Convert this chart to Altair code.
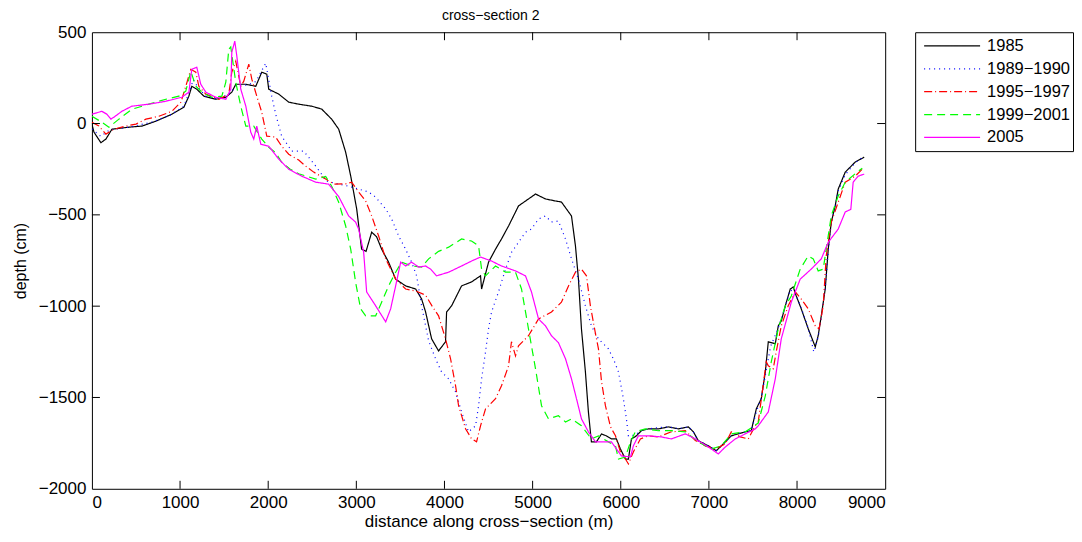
import altair as alt
import pandas as pd

# ---------------- data ----------------
SERIES = ["1985", "1989\u22121990", "1995\u22121997", "1999\u22122001", "2005"]
COLORS = ["#000000", "#0000ff", "#ff0000", "#00ff00", "#ff00ff"]
DASHES = [[1, 0], [1, 4], [8, 3, 1, 3], [8, 5], [1, 0]]

d1985 = [0, 23, 102, 159, 227, 420, 567, 725, 907, 1043, 1100, 1133, 1190, 1270, 1405, 1519, 1587, 1632, 1746, 1859,
         1927, 1984, 2006, 2120, 2233, 2346, 2494, 2607, 2720, 2800, 2879, 2936, 3004, 3060, 3110, 3174, 3230, 3287,
         3366, 3446, 3559, 3673, 3740, 3786, 3854, 3933, 4012, 4024, 4081, 4194, 4307, 4409, 4421, 4500, 4579, 4647,
         4727, 4840, 4953, 5033, 5146, 5259, 5327, 5384, 5441, 5486, 5520, 5554, 5599, 5633, 5667, 5724, 5781, 5837,
         5894, 5951, 5996, 6053, 6087, 6121, 6178, 6234, 6313, 6427, 6540, 6654, 6767, 6824, 6880, 6994, 7084, 7186,
         7254, 7413, 7481, 7538, 7594, 7640, 7674, 7753, 7787, 7821, 7867, 7923, 7957, 7991, 8048, 8127, 8207, 8240,
         8275, 8320, 8354, 8388, 8433, 8467, 8547, 8660, 8762]
v1985 = [-3, -47, -105, -85, -31, -20, -14, 13, 51, 89, 150, 204, 188, 150, 133, 144, 172, 215, 215, 204,
         281, 270, 188, 161, 117, 106, 95, 79, 24, -31, -157, -287, -468, -688, -700, -595, -620, -688,
         -759, -852, -889, -906, -960, -1032, -1179, -1245, -1195, -1032, -998, -889, -867, -834, -906, -759, -688, -632,
         -561, -451, -413, -386, -413, -424, -430, -468, -506, -670, -852, -1124, -1360, -1579, -1743, -1743, -1700, -1710,
         -1727, -1727, -1782, -1837, -1837, -1727, -1710, -1682, -1672, -1672, -1661, -1672, -1661, -1688, -1737, -1765, -1792, -1743,
         -1710, -1688, -1682, -1562, -1507, -1360, -1195, -1206, -1108, -1081, -998, -906, -895, -944, -1015, -1124, -1223, -1162,
         -1053, -906, -688, -541, -451, -359, -266, -211, -184]

d1989 = [0, 100, 200, 420, 700, 907, 1043, 1110, 1150, 1200, 1290, 1420, 1550, 1650, 1760, 1860, 1972, 2040, 2085,
         2153, 2267, 2403, 2539, 2664, 2800, 2913, 3026, 3140, 3219, 3333, 3401, 3480, 3559, 3627, 3684, 3741, 3820,
         3899, 3967, 4047, 4126, 4194, 4273, 4353, 4387, 4421, 4466, 4500, 4534, 4613, 4693, 4760, 4840, 4919, 4987,
         5067, 5146, 5214, 5293, 5373, 5441, 5520, 5599, 5667, 5747, 5860, 5917, 5974, 6030, 6064, 6087, 6121, 6178,
         6234, 6313, 6427, 6540, 6654, 6767, 6824, 6880, 6994, 7084, 7186, 7254, 7413, 7481, 7538, 7594, 7640, 7700,
         7787, 7867, 7923, 7980, 8048, 8127, 8190, 8240, 8275, 8320, 8354, 8388, 8433, 8467, 8547, 8660, 8762]
v1989 = [-30, -70, -35, -20, 10, 51, 95, 180, 240, 200, 150, 135, 160, 210, 210, 230, 330, 150, 51,
         -69, -151, -151, -233, -316, -332, -343, -359, -375, -403, -468, -523, -616, -688, -759, -834, -1000, -1190,
         -1288, -1360, -1398, -1470, -1579, -1688, -1655, -1545, -1398, -1250, -1124, -1032, -922, -797, -706, -650, -595, -578,
         -523, -506, -539, -534, -632, -741, -852, -998, -1108, -1179, -1234, -1289, -1360, -1507, -1617, -1710, -1710, -1700,
         -1682, -1672, -1665, -1661, -1670, -1661, -1690, -1737, -1765, -1790, -1745, -1705, -1690, -1680, -1580, -1500, -1380, -1220,
         -1120, -1000, -910, -930, -1010, -1120, -1250, -1170, -1060, -900, -700, -545, -455, -370, -280, -215, -178]

d1995 = [0, 79, 159, 250, 385, 500, 612, 760, 907, 1010, 1065, 1122, 1179, 1213, 1292, 1440, 1553, 1587, 1632, 1689,
         1723, 1780, 1814, 1870, 1927, 1984, 2085, 2153, 2233, 2346, 2425, 2516, 2652, 2750, 2879, 2947, 3026, 3106,
         3174, 3253, 3333, 3446, 3559, 3673, 3786, 3860, 3933, 4012, 4069, 4126, 4160, 4239, 4307, 4364, 4409, 4466,
         4579, 4647, 4727, 4760, 4806, 4840, 4953, 5067, 5214, 5327, 5407, 5486, 5554, 5611, 5656, 5713, 5747, 5781,
         5826, 5883, 5940, 5996, 6053, 6087, 6143, 6223, 6313, 6427, 6574, 6733, 6846, 6960, 7073, 7186, 7254, 7356,
         7447, 7526, 7560, 7651, 7674, 7730, 7764, 7821, 7900, 7980, 8048, 8127, 8207, 8250, 8297, 8331, 8388, 8467,
         8547, 8660, 8762]
v1995 = [7, -14, -58, -31, -14, -3, 24, 40, 67, 117, 204, 297, 281, 204, 161, 133, 161, 281, 341, 204,
         232, 325, 243, 150, 62, -69, -74, -124, -168, -200, -233, -266, -304, -332, -330, -321, -375, -424,
         -506, -616, -741, -852, -906, -917, -940, -1000, -1053, -1179, -1288, -1436, -1545, -1671, -1726, -1743, -1655, -1562,
         -1507, -1436, -1327, -1195, -1272, -1217, -1162, -1070, -1032, -978, -889, -814, -797, -834, -1000, -1150, -1234, -1410,
         -1545, -1660, -1710, -1798, -1837, -1864, -1798, -1727, -1710, -1716, -1688, -1682, -1735, -1765, -1782, -1754, -1688, -1716,
         -1727, -1655, -1634, -1305, -1327, -1343, -1250, -1108, -998, -922, -961, -1015, -1108, -1124, -998, -725, -541, -431,
         -321, -288, -240]

d1999 = [0, 113, 193, 306, 453, 646, 839, 986, 1065, 1122, 1179, 1247, 1360, 1474, 1519, 1553, 1575, 1610, 1632, 1689,
         1746, 1836, 1927, 2006, 2085, 2153, 2250, 2346, 2539, 2652, 2720, 2800, 2879, 2936, 2992, 3049, 3106, 3219,
         3287, 3366, 3446, 3514, 3627, 3741, 3820, 3933, 4047, 4194, 4307, 4387, 4421, 4466, 4579, 4693, 4806, 4874,
         4953, 5033, 5101, 5180, 5293, 5373, 5441, 5554, 5667, 5747, 5860, 5940, 5974, 6053, 6110, 6166, 6279, 6427,
         6574, 6733, 6880, 7028, 7141, 7254, 7413, 7560, 7640, 7707, 7787, 7867, 7935, 8036, 8127, 8184, 8240, 8297,
         8331, 8388, 8467, 8547, 8694, 8740]
v1999 = [40, 7, -20, 24, 78, 106, 133, 150, 177, 286, 204, 172, 144, 150, 226, 407, 420, 300, 226, 95,
         -14, -14, -85, -130, -160, -212, -250, -275, -304, -290, -343, -431, -561, -688, -870, -1015, -1053, -1053,
         -978, -889, -814, -759, -780, -786, -741, -700, -677, -632, -643, -670, -797, -834, -780, -814, -814, -906,
         -1124, -1343, -1545, -1617, -1600, -1634, -1617, -1655, -1727, -1710, -1743, -1765, -1837, -1826, -1743, -1688, -1672, -1682,
         -1682, -1688, -1743, -1782, -1765, -1699, -1688, -1640, -1491, -1307, -1124, -998, -944, -797, -725, -741, -807, -797,
         -688, -506, -397, -321, -261, -245]

d2005 = [0, 113, 170, 215, 250, 340, 453, 646, 839, 1020, 1100, 1133, 1190, 1235, 1292, 1405, 1519, 1576, 1587, 1621,
         1644, 1689, 1746, 1802, 1836, 1870, 1916, 2006, 2120, 2233, 2380, 2539, 2686, 2800, 2913, 2992, 3026, 3083,
         3117, 3219, 3333, 3389, 3446, 3503, 3559, 3627, 3707, 3786, 3843, 3910, 4047, 4194, 4307, 4409, 4534, 4647,
         4806, 4919, 4987, 5067, 5146, 5214, 5293, 5373, 5441, 5498, 5554, 5633, 5713, 5826, 5894, 5951, 6008, 6110,
         6143, 6200, 6313, 6461, 6574, 6733, 6846, 6994, 7107, 7186, 7299, 7413, 7526, 7560, 7674, 7753, 7821, 7935,
         8036, 8161, 8275, 8354, 8467, 8547, 8610, 8637, 8694, 8762]
v2005 = [51, 67, 51, 24, 35, 67, 95, 106, 122, 144, 172, 297, 308, 215, 172, 144, 133, 188, 390, 451,
         369, 188, 95, -47, -85, -14, -113, -124, -195, -250, -288, -321, -332, -400, -506, -540, -578, -704,
         -922, -998, -1086, -1015, -889, -759, -780, -759, -786, -780, -797, -834, -814, -780, -753, -731, -753, -780,
         -807, -834, -922, -1070, -1108, -1162, -1200, -1288, -1398, -1507, -1617, -1688, -1743, -1743, -1743, -1782, -1820, -1826,
         -1765, -1710, -1710, -1716, -1727, -1699, -1727, -1771, -1809, -1771, -1727, -1699, -1672, -1655, -1579, -1398, -1179, -978,
         -852, -797, -741, -650, -578, -484, -470, -321, -288, -277]

X_TICKS = [0, 1000, 2000, 3000, 4000, 5000, 6000, 7000, 8000, 9000]
Y_TICKS = [-2000, -1500, -1000, -500, 0, 500]

# ---------------- build table ----------------
rows = []
for name, ds, vs in zip(SERIES, [d1985, d1989, d1995, d1999, d2005], [v1985, v1989, v1995, v1999, v2005]):
    for d, v in zip(ds, vs):
        rows.append({"series": name, "distance": d, "depth": v})
df = pd.DataFrame(rows)

FONT = "Liberation Sans"
W, H = 794, 457
TICK = 8

xscale = alt.Scale(domain=[0, 9000], nice=False, zero=False)
yscale = alt.Scale(domain=[-2000, 500], nice=False, zero=False)
cscale = alt.Scale(domain=SERIES, range=COLORS)
dscale = alt.Scale(domain=SERIES, range=DASHES)

lines = alt.Chart(df).mark_line(strokeWidth=1.2, clip=True).encode(
    x=alt.X("distance:Q", scale=xscale,
            axis=alt.Axis(values=X_TICKS, format="d", tickSize=0, domain=False, grid=False, labelPadding=6,
                          title="distance along cross\u2212section (m)", titlePadding=3, titleFontSize=17)),
    y=alt.Y("depth:Q", scale=yscale,
            axis=alt.Axis(values=Y_TICKS, format="d", tickSize=0, domain=False, grid=False, labelPadding=6,
                          title="depth (cm)", titlePadding=10, titleFontSize=16)),
    color=alt.Color("series:N", scale=cscale, legend=None),
    strokeDash=alt.StrokeDash("series:N", scale=dscale, legend=None),
    detail="series:N",
)

# inward ticks on all four sides (MATLAB box style)
inner_x = pd.DataFrame({"x": X_TICKS[1:-1]})
inner_y = pd.DataFrame({"y": Y_TICKS[1:-1]})
tick_bottom = alt.Chart(inner_x).mark_rule(color="black", strokeWidth=1).encode(
    x=alt.X("x:Q", scale=xscale), y=alt.datum(-2000, scale=yscale), y2=alt.value(H - TICK))
tick_top = alt.Chart(inner_x).mark_rule(color="black", strokeWidth=1).encode(
    x=alt.X("x:Q", scale=xscale), y=alt.datum(500, scale=yscale), y2=alt.value(TICK))
tick_left = alt.Chart(inner_y).mark_rule(color="black", strokeWidth=1).encode(
    y=alt.Y("y:Q", scale=yscale), x=alt.datum(0, scale=xscale), x2=alt.value(TICK))
tick_right = alt.Chart(inner_y).mark_rule(color="black", strokeWidth=1).encode(
    y=alt.Y("y:Q", scale=yscale), x=alt.datum(9000, scale=xscale), x2=alt.value(W - TICK))

main = alt.layer(lines, tick_bottom, tick_top, tick_left, tick_right).properties(width=W, height=H)

# legend panel
leg_df = pd.DataFrame({"series": SERIES})
ly = alt.Y("series:N", scale=alt.Scale(domain=SERIES, type="point", padding=0.6), axis=None)
leg_lines = alt.Chart(leg_df).mark_rule(strokeWidth=1.2).encode(
    x=alt.value(9), x2=alt.value(65), y=ly,
    color=alt.Color("series:N", scale=cscale, legend=None),
    strokeDash=alt.StrokeDash("series:N", scale=dscale, legend=None),
)
leg_text = alt.Chart(leg_df).mark_text(align="left", baseline="middle", fontSize=16.5, font=FONT, color="black").encode(
    x=alt.value(72), y=ly, text="series:N")
legend = alt.layer(leg_lines, leg_text).properties(width=158, height=119)

chart = alt.hconcat(main, legend, spacing=28).properties(
    title=alt.TitleParams("cross\u2212section 2", fontSize=14, font=FONT, fontWeight="normal",
                          anchor="middle", dx=-52, offset=0, color="black"),
    padding={"left": 3, "top": 0, "right": 0, "bottom": 0},
).configure_view(stroke="black", strokeWidth=1).configure_axis(
    labelFont=FONT, titleFont=FONT, labelFontSize=17,
    labelColor="black", titleColor="black", titleFontWeight="normal",
).configure_concat(spacing=28)

chart.save("out.html", embed_options={"renderer": "svg", "actions": False})
